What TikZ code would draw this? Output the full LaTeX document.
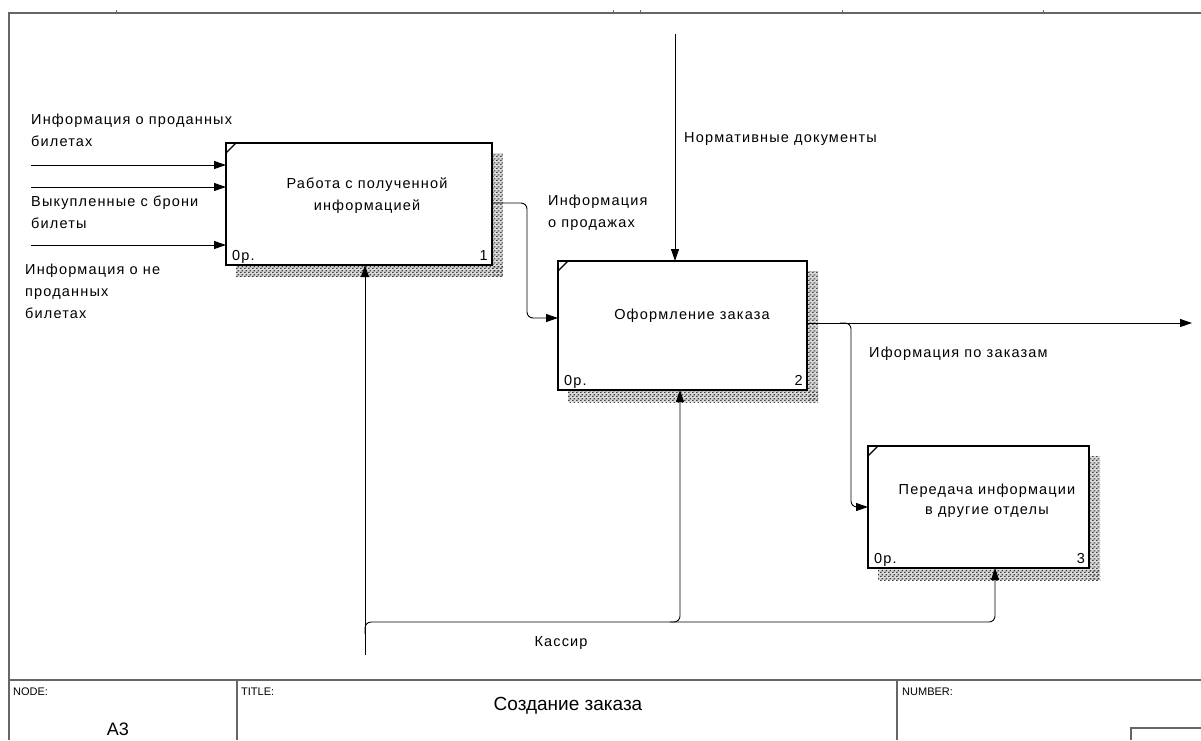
\documentclass[tikz,border=0pt]{standalone}
\usepackage{fontspec}
\setmainfont{Liberation Sans}
\newfontfamily\lblfont[LetterSpace=8]{Liberation Sans}
\usetikzlibrary{arrows.meta,patterns,calc}

% coarse checkered texture for the box shadows
\pgfdeclarepatternformonly{idefshade}{\pgfpointorigin}{\pgfqpoint{4pt}{4pt}}{\pgfqpoint{4pt}{4pt}}{%
  \pgfpathrectangle{\pgfpointorigin}{\pgfqpoint{2pt}{1.3pt}}%
  \pgfpathrectangle{\pgfqpoint{2pt}{2pt}}{\pgfqpoint{2pt}{1.3pt}}%
  \pgfusepath{fill}}

\begin{document}
\begin{tikzpicture}[x=1pt,y=-1pt,
  frameline/.style={draw=black!60, line width=1.4pt},
  conn/.style={line width=0.9pt, rounded corners=6pt},
  arr/.style={conn, -{Triangle[length=12pt,width=8pt]}},
  fnbox/.style={draw, rectangle, line width=2pt, inner sep=0pt, outer sep=0pt, fill=white},
  shadebase/.style={fill=black!15},
  shade/.style={pattern=idefshade, pattern color=black!75},
  lbl/.style={font=\lblfont\fontsize{14.5}{22}\selectfont, inner sep=0pt, align=left, anchor=base west},
  boxtxt/.style={font=\lblfont\fontsize{14.5}{22}\selectfont, inner sep=0pt, align=center, anchor=base},
  cornertxt/.style={font=\lblfont\fontsize{14.5}{16}\selectfont, inner sep=0pt},
  blk/.style={font=\fontsize{11}{13}\selectfont, inner sep=0pt, anchor=base west}
]
\useasboundingbox (0,0) rectangle (1201,740);

% drawing frame and title block
\draw[frameline] (9,740) -- (9,13) -- (1201,13);
\foreach \tx in {116,613,640,842,1043}
  \draw[black!60, line width=0.8pt] (\tx,13) -- (\tx,10);
\draw[frameline] (9,680) -- (1201,680);
\draw[frameline] (237,680) -- (237,740);
\draw[frameline] (897,680) -- (897,740);
\draw[frameline] (1131,740) -- (1131,728) -- (1201,728);

% function boxes
\node[fnbox, minimum width=266pt, minimum height=122pt] (b1) at (359,204) {};
\node[fnbox, minimum width=249pt, minimum height=129pt] (b2) at (682.5,325.5) {};
\node[fnbox, minimum width=221pt, minimum height=122pt] (b3) at (978.5,507) {};

% shadows, corner marks and box numbers
\foreach \b/\n in {b1/1,b2/2,b3/3}{
  \fill[shadebase] ($(\b.north east)+(1,10)$) rectangle ($(\b.south east)+(11,12)$);
  \fill[shadebase] ($(\b.south west)+(10,1)$) rectangle ($(\b.south east)+(11,12)$);
  \fill[shade] ($(\b.north east)+(1,10)$) rectangle ($(\b.south east)+(11,12)$);
  \fill[shade] ($(\b.south west)+(10,1)$) rectangle ($(\b.south east)+(11,12)$);
  \draw[line width=1.2pt] ($(\b.north west)+(0,10)$) -- ($(\b.north west)+(10,0)$);
  \node[cornertxt, anchor=base west] (\b p) at ($(\b.south west)+(6,-5)$) {0р.};
  \node[cornertxt, anchor=base east] (\b n) at ($(\b.south east)+(-4,-5)$) {\n};
}
\draw[line width=2pt] (b1.north west) rectangle (b1.south east);
\draw[line width=2pt] (b2.north west) rectangle (b2.south east);
\draw[line width=2pt] (b3.north west) rectangle (b3.south east);

\node[boxtxt] (t1) at (367,210) {Работа с полученной\\информацией};
\node[boxtxt] (t2) at (692,319) {Оформление заказа};
\node[boxtxt, font=\lblfont\fontsize{14.5}{20}\selectfont] (t3) at (987,514) {Передача информации\\в другие отделы};

% inputs of box 1
\coordinate (in1) at (31,165);
\coordinate (in2) at (31,187);
\coordinate (in3) at (31,245);
\draw[arr] (in1) -- (in1 -| b1.west);
\draw[arr] (in2) -- (in2 -| b1.west);
\draw[arr] (in3) -- (in3 -| b1.west);
\node[lbl] (l1) at (31,146) {Информация о проданных\\билетах};
\node[lbl] (l2) at (31,228) {Выкупленные с брони\\билеты};
\node[lbl] (l3) at (25,318) {Информация о не\\проданных\\билетах};

% box 1 -> box 2
\draw[arr] (b1.east |- 0,203) -- (527,203) -- (527,318) -- (b2.west |- 0,318);
\node[lbl] (l4) at (548,227) {Информация\\о продажах};

% control
\coordinate (ctl) at (675,34);
\draw[arr] (ctl) -- (ctl |- b2.north);
\node[lbl] (l5) at (684,142) {Нормативные документы};

% outputs of box 2
\coordinate (out) at (1192,323);
\draw[arr] (b2.east |- out) -- (out);
\draw[arr] (840,323) -- (851,323) -- (851,507) -- (b3.west |- 0,507);
\node[lbl] (l6) at (869,357) {Иформация по заказам};

% mechanism
\coordinate (mech) at (365,655);
\coordinate (m2) at (680,622);
\coordinate (m3) at (995,622);
\draw[arr] (mech) -- (mech |- b1.south);
\draw[arr] (365,634) -- (365,622) -- (m2) -- (m2 |- b2.south);
\draw[arr] (670,622) -- (m3) -- (m3 |- b3.south);
\node[lbl, anchor=base] (l7) at (561,646) {Кассир};

% title block texts
\node[blk] (nd) at (13,695) {NODE:};
\node[blk] (tt) at (241,695) {TITLE:};
\node[blk] (nb) at (902,695) {NUMBER:};
\node[font=\fontsize{19}{22}\selectfont, inner sep=0pt, anchor=base] (ttl) at (568,710) {Создание заказа};
\node[font=\fontsize{18}{22}\selectfont, inner sep=0pt, anchor=base] (nn) at (118,735) {A3};
\end{tikzpicture}
\end{document}
